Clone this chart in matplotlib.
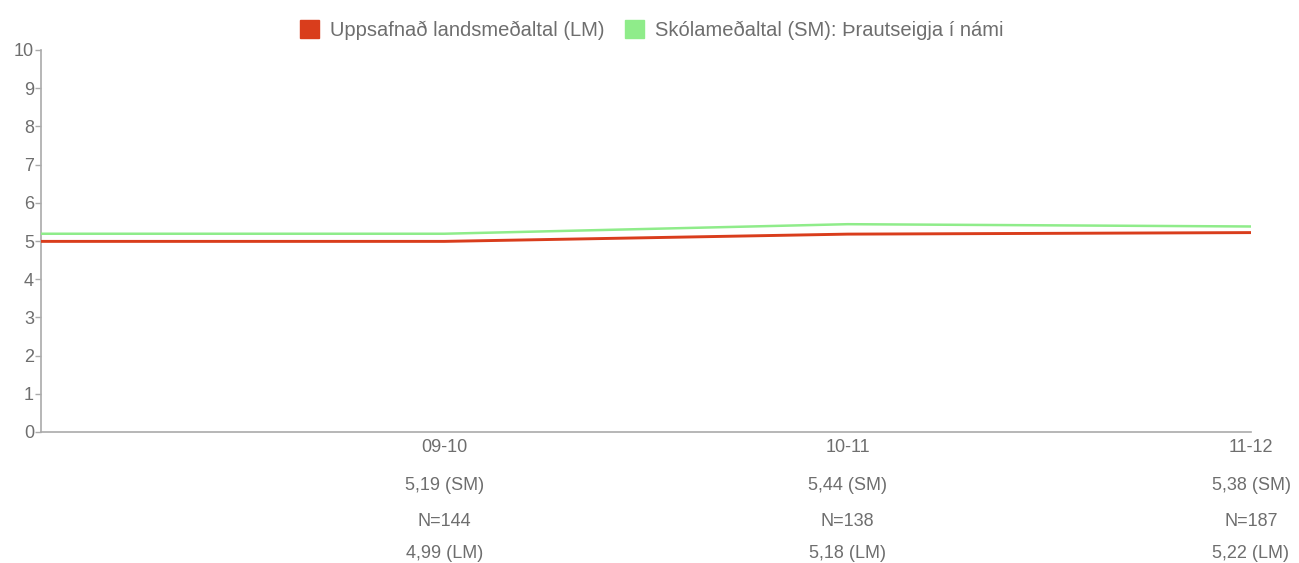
import matplotlib
matplotlib.use("Agg")
import matplotlib.pyplot as plt
from matplotlib.patches import Patch

plt.rcParams['font.family'] = ['Liberation Sans', 'DejaVu Sans']

categories = ["", "09-10", "10-11", "11-12"]
lm_values = [4.99, 4.99, 5.18, 5.22]
sm_values = [5.19, 5.19, 5.44, 5.38]
n_values = [None, 144, 138, 187]
sm_labels = ["", "5,19 (SM)", "5,44 (SM)", "5,38 (SM)"]
lm_labels = ["", "4,99 (LM)", "5,18 (LM)", "5,22 (LM)"]
y_ticks = list(range(0, 11))

red = "#d93d1c"
green = "#8fec8a"
gray = "#6e6e6e"

fig = plt.figure(figsize=(12.99, 5.63), dpi=100)
ax = fig.add_axes([41/1299, 1-432/563, (1251-41)/1299, (432-50)/563])

x = list(range(len(categories)))
ax.plot(x, sm_values, color=green, lw=1.8, solid_capstyle='butt', zorder=3)
ax.plot(x, lm_values, color=red, lw=2.1, solid_capstyle='butt', zorder=4)

ax.set_xlim(0, len(categories) - 1)
ax.set_ylim(0, 10)
ax.set_yticks(y_ticks)
ax.set_yticklabels([str(v) for v in y_ticks], color=gray, fontsize=13)
ax.tick_params(axis='y', length=4, width=1, color="#aaaaaa", pad=1)
ax.set_xticks([])

for s in ['top', 'right']:
    ax.spines[s].set_visible(False)
for s in ['left', 'bottom']:
    ax.spines[s].set_color("#aaaaaa")
    ax.spines[s].set_linewidth(1.2)

trans = ax.get_xaxis_transform()
row_offsets = [-16, -53, -89, -121]
for i, cat in enumerate(categories):
    if not cat:
        continue
    rows = [cat, sm_labels[i], "N=%d" % n_values[i], lm_labels[i]]
    for j, txt in enumerate(rows):
        ax.annotate(txt, xy=(i, 0), xycoords=trans,
                    xytext=(0, row_offsets[j]), textcoords='offset pixels',
                    ha='center', va='center', fontsize=13, color=gray,
                    annotation_clip=False)

handles = [Patch(facecolor=red, edgecolor=red, label="Uppsafnað landsmeðaltal (LM)"),
           Patch(facecolor=green, edgecolor=green, label="Skólameðaltal (SM): Þrautseigja í námi")]
leg = fig.legend(handles=handles, loc='center', bbox_to_anchor=(652/1299, 1-30/563),
                 ncol=2, frameon=False, fontsize=14.5, handlelength=0.95, handleheight=0.95,
                 handletextpad=0.55, columnspacing=1.0)
for t in leg.get_texts():
    t.set_color(gray)

fig.savefig("out.png", dpi=100)
